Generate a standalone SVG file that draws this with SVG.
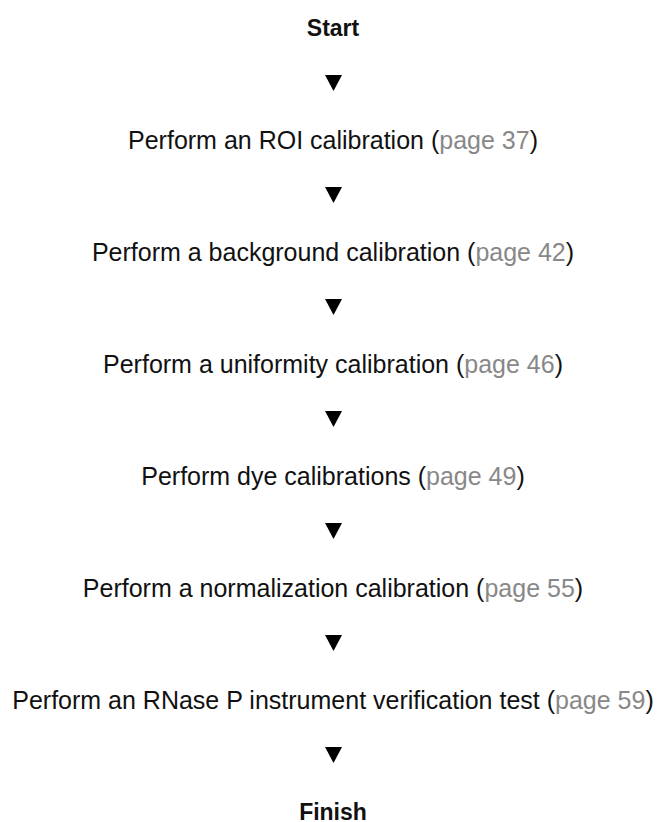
<svg xmlns="http://www.w3.org/2000/svg" width="661" height="822" viewBox="0 0 661 822">
<style>
text{font-family:"Liberation Sans",Arial,Helvetica,sans-serif;font-size:25px;fill:#111;text-anchor:middle}
.b{font-weight:bold;font-size:23px}
.pg{fill:#888}
.arr{fill:#000}
</style>
<rect width="661" height="822" fill="#fff"/>
<g id="connectors">
<polygon class="arr" points="325,75 342,75 333.5,91"/>
<polygon class="arr" points="325,187 342,187 333.5,203"/>
<polygon class="arr" points="325,299 342,299 333.5,315"/>
<polygon class="arr" points="325,411 342,411 333.5,427"/>
<polygon class="arr" points="325,523 342,523 333.5,539"/>
<polygon class="arr" points="325,635 342,635 333.5,651"/>
<polygon class="arr" points="325,747 342,747 333.5,763"/>
</g>
<g id="start"><text class="b" x="333" y="36">Start</text></g>
<g id="roi"><text x="333" y="149">Perform an ROI calibration (<tspan class="pg">page 37</tspan>)</text></g>
<g id="background"><text x="333" y="261">Perform a background calibration (<tspan class="pg">page 42</tspan>)</text></g>
<g id="uniformity"><text x="333" y="373">Perform a uniformity calibration (<tspan class="pg">page 46</tspan>)</text></g>
<g id="dye"><text x="333" y="485">Perform dye calibrations (<tspan class="pg">page 49</tspan>)</text></g>
<g id="normalization"><text x="333" y="597">Perform a normalization calibration (<tspan class="pg">page 55</tspan>)</text></g>
<g id="rnasep"><text x="333" y="709">Perform an RNase P instrument verification test (<tspan class="pg">page 59</tspan>)</text></g>
<g id="finish"><text class="b" x="333" y="820">Finish</text></g>
</svg>
